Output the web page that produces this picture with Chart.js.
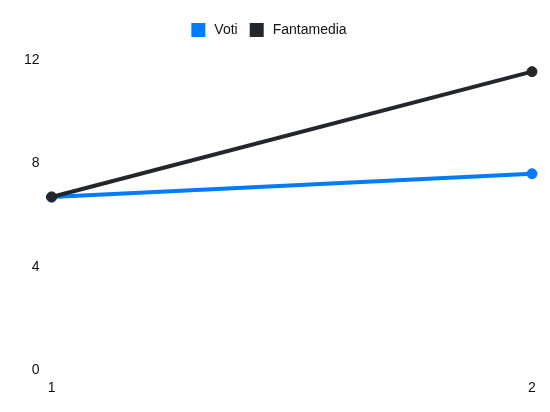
<!DOCTYPE html>
<html>
<head>
<meta charset="utf-8">
<script src="https://cdn.jsdelivr.net/npm/chart.js@4/dist/chart.umd.min.js"></script>
<style>
  html, body { margin: 0; padding: 0; background: #fff; }
  #wrap { width: 550px; height: 412px; }
</style>
</head>
<body>
<div id="wrap"><canvas id="chart"></canvas></div>
<script>
const giornate = ['1', '2'];
const voti = [6.7, 7.6];
const fantamedia = [6.7, 11.55];
const yTicks = [0, 4, 8, 12];

Chart.defaults.font.family = '"Liberation Sans", Arial, sans-serif';
Chart.defaults.font.size = 14;
Chart.defaults.color = '#111';

// extra space below the legend
const legendGap = {
    id: 'legendGap',
    beforeInit(chart) {
        const fit = chart.legend.fit;
        chart.legend.fit = function () {
            fit.bind(chart.legend)();
            this.height += 11;
        };
    }
};

const ctx = document.getElementById('chart').getContext('2d');
new Chart(ctx, {
    type: 'line',
    data: {
        labels: giornate,
        datasets: [
            {
                label: 'Voti',
                data: voti,
                order: 1,
                borderColor: '#007bff',
                backgroundColor: '#007bff',
                borderWidth: 4,
                pointRadius: 5,
                pointBorderWidth: 1,
                pointHoverRadius: 5,
                fill: false,
                tension: 0
            },
            {
                label: 'Fantamedia',
                data: fantamedia,
                order: 0,
                borderColor: '#23272b',
                backgroundColor: '#23272b',
                borderWidth: 4,
                pointRadius: 5,
                pointBorderWidth: 1,
                pointHoverRadius: 5,
                fill: false,
                tension: 0
            }
        ]
    },
    options: {
        responsive: true,
        maintainAspectRatio: false,
        animation: false,
        layout: { padding: { left: 4, right: 18, top: 11, bottom: 13 } },
        plugins: {
            legend: {
                labels: {
                    boxWidth: 18,
                    boxHeight: 18,
                    padding: 10,
                    sort: (a, b) => a.datasetIndex - b.datasetIndex,
                    generateLabels: chart => Chart.defaults.plugins.legend.labels.generateLabels(chart)
                        .map(item => Object.assign(item, { strokeStyle: '#fff', lineWidth: 4 }))
                }
            },
            tooltip: { enabled: false }
        },
        scales: {
            x: {
                grid: { display: false },
                border: { display: false },
                ticks: { padding: 2 }
            },
            y: {
                min: yTicks[0],
                max: yTicks[yTicks.length - 1],
                grid: { display: false },
                border: { display: false },
                afterBuildTicks: axis => { axis.ticks = yTicks.map(v => ({ value: v })); },
                afterFit: axis => { axis.width += 16; },
                ticks: { padding: 4 }
            }
        }
    },
    plugins: [legendGap]
});
</script>
</body>
</html>
